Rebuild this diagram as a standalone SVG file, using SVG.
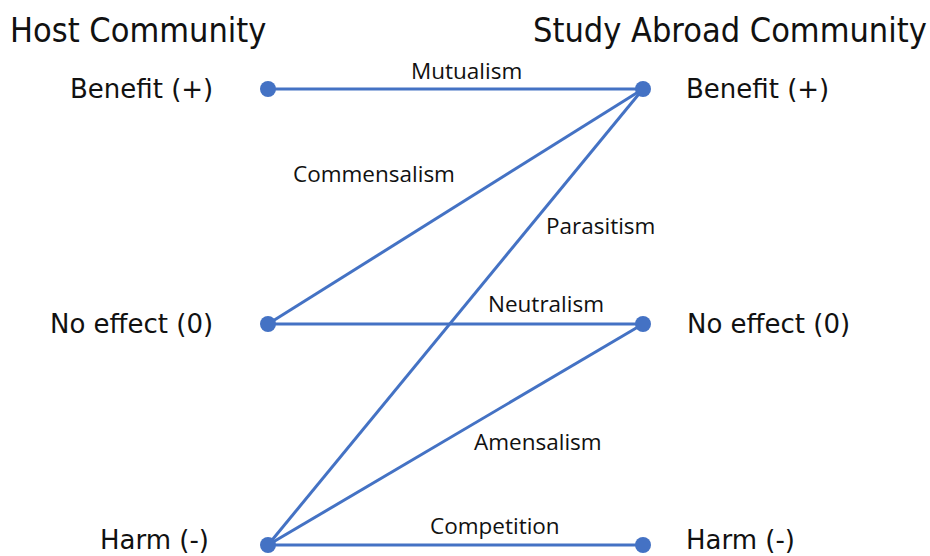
<svg xmlns="http://www.w3.org/2000/svg" width="930" height="556" viewBox="0 0 930 556">
<style>
.title{font-family:"DejaVu Sans Condensed","DejaVu Sans",sans-serif;font-size:34px;fill:#111}
.lvl{font-family:"DejaVu Sans",sans-serif;font-size:26px;fill:#111}
.rel{font-family:"Open Sans","Noto Sans",sans-serif;font-size:22.5px;fill:#111}
.edge{stroke:#4472C4;stroke-width:3;fill:none}
.dot{fill:#4472C4}
</style>
<rect width="930" height="556" fill="#fff"/>
<text class="title" x="10" y="42">Host Community</text>
<text class="title" x="533" y="42">Study Abroad Community</text>
<g id="connectors">
<line class="edge" x1="268" y1="89" x2="643" y2="89"/>
<line class="edge" x1="268" y1="324" x2="643" y2="89"/>
<line class="edge" x1="268" y1="324" x2="643" y2="324"/>
<line class="edge" x1="268" y1="545" x2="643" y2="89"/>
<line class="edge" x1="268" y1="545" x2="643" y2="324"/>
<line class="edge" x1="268" y1="545" x2="643" y2="545"/>
<text class="rel" x="411" y="79">Mutualism</text>
<text class="rel" x="293" y="182">Commensalism</text>
<text class="rel" x="546" y="234">Parasitism</text>
<text class="rel" x="488" y="312">Neutralism</text>
<text class="rel" x="474" y="450">Amensalism</text>
<text class="rel" x="430" y="534">Competition</text>
</g>
<g id="host-benefit"><circle class="dot" cx="268" cy="89" r="8"/><text class="lvl" x="70" y="98">Benefit (+)</text></g>
<g id="host-noeffect"><circle class="dot" cx="268" cy="324" r="8"/><text class="lvl" x="50" y="333">No effect (0)</text></g>
<g id="host-harm"><circle class="dot" cx="268" cy="545" r="8"/><text class="lvl" x="100" y="549">Harm (-)</text></g>
<g id="abroad-benefit"><circle class="dot" cx="643" cy="89" r="8"/><text class="lvl" x="686" y="98">Benefit (+)</text></g>
<g id="abroad-noeffect"><circle class="dot" cx="643" cy="324" r="8"/><text class="lvl" x="687" y="333">No effect (0)</text></g>
<g id="abroad-harm"><circle class="dot" cx="643" cy="545" r="8"/><text class="lvl" x="686" y="549">Harm (-)</text></g>
</svg>
